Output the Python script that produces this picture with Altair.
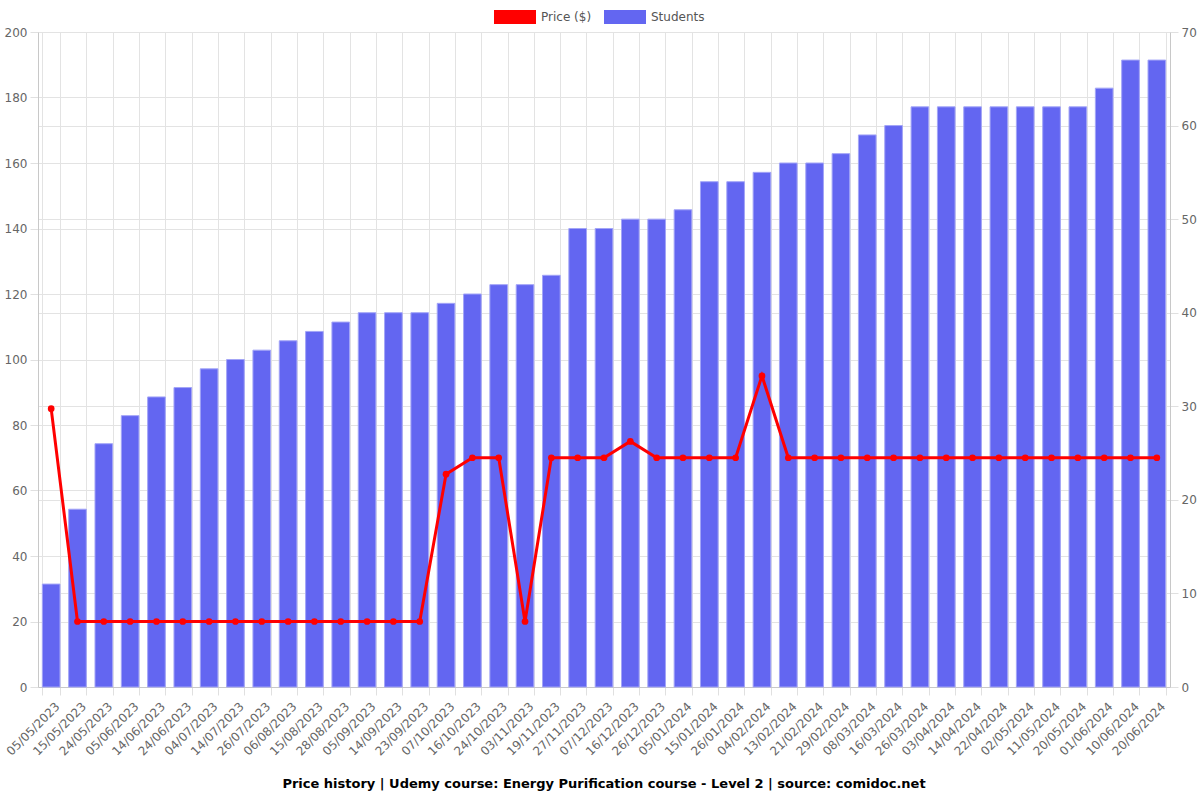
import altair as alt
import pandas as pd

dates = [
    "05/05/2023", "15/05/2023", "24/05/2023", "05/06/2023", "14/06/2023", "24/06/2023",
    "04/07/2023", "14/07/2023", "26/07/2023", "06/08/2023", "15/08/2023", "28/08/2023",
    "05/09/2023", "14/09/2023", "23/09/2023", "07/10/2023", "16/10/2023", "24/10/2023",
    "03/11/2023", "19/11/2023", "27/11/2023", "07/12/2023", "16/12/2023", "26/12/2023",
    "05/01/2024", "15/01/2024", "26/01/2024", "04/02/2024", "13/02/2024", "21/02/2024",
    "29/02/2024", "08/03/2024", "16/03/2024", "26/03/2024", "03/04/2024", "14/04/2024",
    "22/04/2024", "02/05/2024", "11/05/2024", "20/05/2024", "01/06/2024", "10/06/2024",
    "20/06/2024",
]
students = [11, 19, 26, 29, 31, 32, 34, 35, 36, 37, 38, 39, 40, 40, 40, 41, 42, 43, 43, 44,
            49, 49, 50, 50, 51, 54, 54, 55, 56, 56, 57, 59, 60, 62, 62, 62, 62, 62, 62, 62,
            64, 67, 67]
prices = [85, 20, 20, 20, 20, 20, 20, 20, 20, 20, 20, 20, 20, 20, 20, 65, 70, 70, 20, 70,
          70, 70, 75, 70, 70, 70, 70, 95, 70, 70, 70, 70, 70, 70, 70, 70, 70, 70, 70, 70,
          70, 70, 70]
series_names = ["Price ($)", "Students"]
series_colors = ["#ff0000", "#6366f1"]
title_text = "Price history | Udemy course: Energy Purification course - Level 2 | source: comidoc.net"

df = pd.DataFrame({"date": dates, "students": students, "price": prices, "series": "Students"})

x_enc = alt.X(
    "date:N", sort=None,
    scale=alt.Scale(paddingInner=0.33, paddingOuter=0.165),
    axis=alt.Axis(title=None, labelAngle=315, labelAlign="right", labelBaseline="middle",
                  tickBand="extent", grid=True, labelPadding=9, labelOffset=6),
)

base = alt.Chart(df)

bars = base.mark_bar(stroke="#a3a5f7", strokeWidth=1).encode(
    x=x_enc,
    y=alt.Y("students:Q", scale=alt.Scale(domain=[0, 70], nice=False),
            axis=alt.Axis(orient="right", values=list(range(0, 71, 10)), title=None, grid=True)),
    fill=alt.Fill("series:N", scale=alt.Scale(domain=series_names, range=series_colors),
                  legend=alt.Legend(title=None, orient="none", legendX=456, legendY=-36,
                                    direction="horizontal",
                                    symbolType="M-1,-0.33H1V0.33H-1Z", symbolSize=1764,
                                    symbolStrokeWidth=0, labelFontSize=12, labelColor="#555555",
                                    columnPadding=12, labelOffset=5)),
)

line = base.mark_line(
    color="#ff0000", strokeWidth=3,
    point=alt.OverlayMarkDef(color="#ff0000", size=45, filled=True),
).encode(
    x=x_enc,
    y=alt.Y("price:Q", scale=alt.Scale(domain=[0, 200], nice=False),
            axis=alt.Axis(orient="left", values=list(range(0, 201, 20)), title=None, grid=True)),
)

chart = alt.layer(bars, line).resolve_scale(y="independent").properties(
    width=1132, height=655,
    autosize=alt.AutoSizeParams(type="none"),
    padding={"left": 38, "top": 32, "right": 30, "bottom": 113},
    title=alt.TitleParams(title_text, orient="bottom", anchor="middle", fontSize=13,
                          fontWeight="bold", color="#000000", offset=21),
).configure(
    font="DejaVu Sans",
).configure_axis(
    labelColor="#666666", labelFontSize=12, labelFont="DejaVu Sans",
    gridColor="#e3e3e3", domainColor="#c8c8c8", tickColor="#e0e0e0", tickSize=8,
    labelPadding=3,
).configure_view(stroke=None).configure_legend(labelFont="DejaVu Sans")

chart.save("out.html", embed_options={"renderer": "svg", "actions": False})
